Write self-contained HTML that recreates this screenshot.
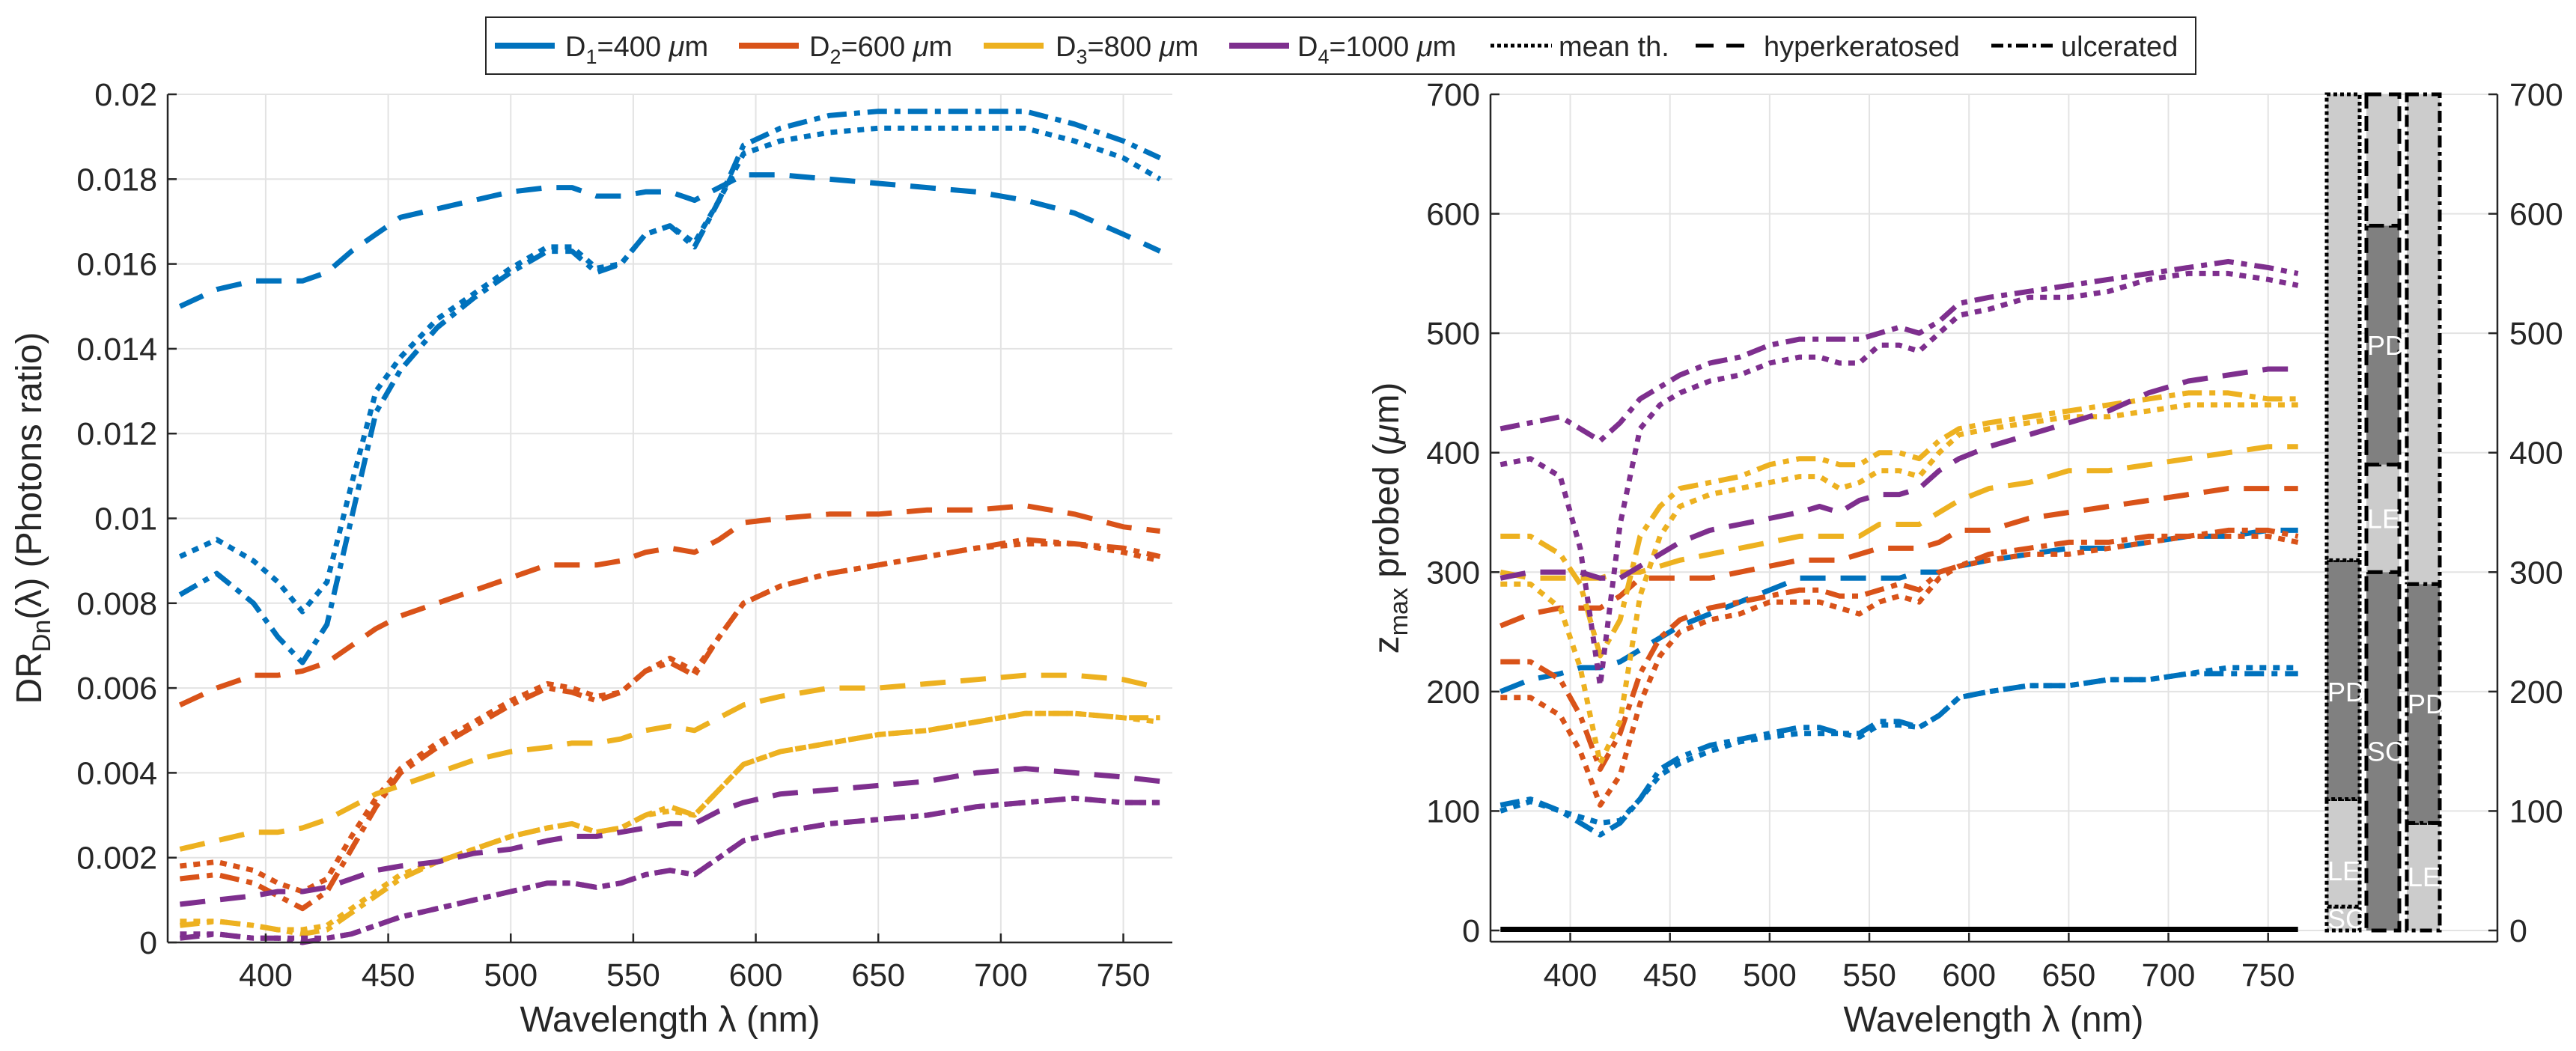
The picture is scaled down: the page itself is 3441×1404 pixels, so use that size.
<!DOCTYPE html>
<html><head><meta charset="utf-8">
<style>
html,body{margin:0;padding:0;background:#fff;}
svg{display:block;}
text{font-family:"Liberation Sans",sans-serif;fill:#262626;}
</style></head>
<body>
<svg id="fig" width="3441" height="1404" viewBox="0 0 3441 1404" xmlns="http://www.w3.org/2000/svg"></svg>
<script>
// ---------- data ----------
const wl = [365,380,395,405,415,425,435,445,455,470,485,500,515,525,535,545,555,565,575,585,595,610,630,650,670,690,710,730,750,765];

// Left chart: DR (photons ratio)
const drBlueUlc = [.0082,.0087,.0080,.0072,.0066,.0075,.0100,.0125,.0135,.0145,.0152,.0158,.0163,.0163,.0158,.0160,.0167,.0169,.0164,.0175,.0188,.0192,.0195,.0196,.0196,.0196,.0196,.0193,.0189,.0185];
const drBlueMean = [.0091,.0095,.0090,.0085,.0078,.0085,.0108,.0130,.0138,.0147,.0153,.0159,.0164,.0164,.0159,.0160,.0167,.0169,.0165,.0175,.0186,.0189,.0191,.0192,.0192,.0192,.0192,.0189,.0185,.0180];
const drBlueHyp = [.0150,.0154,.0156,.0156,.0156,.0158,.0163,.0167,.0171,.0173,.0175,.0177,.0178,.0178,.0176,.0176,.0177,.0177,.0175,.0178,.0181,.0181,.0180,.0179,.0178,.0177,.0175,.0172,.0167,.0163];
const drOrangeUlc = [.0015,.0016,.0014,.0011,.0008,.0012,.0022,.0032,.0040,.0046,.0051,.0056,.0060,.0059,.0057,.0059,.0064,.0066,.0063,.0072,.0080,.0084,.0087,.0089,.0091,.0093,.0095,.0094,.0093,.0091];
const drOrangeMean = [.0018,.0019,.0017,.0014,.0012,.0015,.0025,.0034,.0041,.0047,.0052,.0057,.0061,.0060,.0058,.0059,.0064,.0067,.0064,.0072,.0080,.0084,.0087,.0089,.0091,.0093,.0094,.0094,.0092,.0090];
const drOrangeHyp = [.0056,.0060,.0063,.0063,.0064,.0066,.0070,.0074,.0077,.0080,.0083,.0086,.0089,.0089,.0089,.0090,.0092,.0093,.0092,.0095,.0099,.0100,.0101,.0101,.0102,.0102,.0103,.0101,.0098,.0097];
const drYellowUlc = [.0004,.0005,.0004,.0003,.0002,.0003,.0007,.0011,.0015,.0019,.0022,.0025,.0027,.0028,.0026,.0027,.0030,.0032,.0030,.0036,.0042,.0045,.0047,.0049,.0050,.0052,.0054,.0054,.0053,.0053];
const drYellowMean = [.0005,.0005,.0004,.0003,.0003,.0004,.0008,.0012,.0016,.0019,.0022,.0025,.0027,.0028,.0026,.0027,.0030,.0031,.0030,.0036,.0042,.0045,.0047,.0049,.0050,.0052,.0054,.0054,.0053,.0052];
const drYellowHyp = [.0022,.0024,.0026,.0026,.0027,.0029,.0032,.0035,.0037,.0040,.0043,.0045,.0046,.0047,.0047,.0048,.0050,.0051,.0050,.0053,.0056,.0058,.0060,.0060,.0061,.0062,.0063,.0063,.0062,.0060];
const drPurpleUlc = [.0001,.0002,.0001,.0001,.0000,.0001,.0002,.0004,.0006,.0008,.0010,.0012,.0014,.0014,.0013,.0014,.0016,.0017,.0016,.0020,.0024,.0026,.0028,.0029,.0030,.0032,.0033,.0034,.0033,.0033];
const drPurpleMean = [.0002,.0002,.0001,.0001,.0001,.0001,.0002,.0004,.0006,.0008,.0010,.0012,.0014,.0014,.0013,.0014,.0016,.0017,.0016,.0020,.0024,.0026,.0028,.0029,.0030,.0032,.0033,.0034,.0033,.0033];
const drPurpleHyp = [.0009,.0010,.0011,.0012,.0012,.0013,.0015,.0017,.0018,.0019,.0021,.0022,.0024,.0025,.0025,.0026,.0027,.0028,.0028,.0031,.0033,.0035,.0036,.0037,.0038,.0040,.0041,.0040,.0039,.0038];

// Right chart: z_max probed (um)
const zBlueUlc = [105,110,100,90,80,90,110,135,145,155,160,165,170,170,165,165,175,175,170,180,195,200,205,205,210,210,215,215,215,215];
const zBlueMean = [100,108,100,95,90,92,110,130,140,150,158,162,165,165,165,162,172,172,170,180,195,200,205,205,210,210,215,220,220,220];
const zBlueHyp = [200,210,215,220,220,225,235,245,255,265,275,285,295,295,295,295,295,295,300,300,305,310,315,320,320,325,330,330,335,335];
const zOrangeUlc = [225,225,210,180,135,165,215,245,260,270,275,280,285,285,280,280,285,290,285,300,305,315,320,325,325,330,330,335,335,330];
const zOrangeMean = [195,195,180,150,105,130,190,230,250,260,265,275,275,275,270,265,275,280,275,295,305,310,315,315,320,325,330,330,330,325];
const zOrangeHyp = [255,265,270,270,270,280,295,295,295,295,300,305,310,310,310,315,320,320,320,325,335,335,345,350,355,360,365,370,370,370];
const zYellowUlc = [330,330,315,290,230,260,330,355,370,375,380,390,395,395,390,390,400,400,395,410,420,425,430,435,440,445,450,450,445,445];
const zYellowMean = [290,290,270,220,140,175,280,330,355,365,370,375,380,380,370,375,385,385,380,400,415,420,425,430,430,435,440,440,440,440];
const zYellowHyp = [300,295,295,295,295,300,300,305,310,315,320,325,330,330,330,330,340,340,340,350,360,370,375,385,385,390,395,400,405,405];
const zPurpleUlc = [420,425,430,420,410,425,445,455,465,475,480,490,495,495,495,495,500,505,500,510,525,530,535,540,545,550,555,560,555,550];
const zPurpleMean = [390,395,380,320,205,340,420,440,450,460,465,475,480,480,475,475,490,490,485,500,515,520,530,530,535,545,550,550,545,540];
const zPurpleHyp = [295,300,300,300,295,295,305,315,325,335,340,345,350,355,350,360,365,365,370,385,395,405,415,425,435,450,460,465,470,470];

const leftYTicks = [0,0.002,0.004,0.006,0.008,0.01,0.012,0.014,0.016,0.018,0.02];
const leftYLabels = ["0","0.002","0.004","0.006","0.008","0.01","0.012","0.014","0.016","0.018","0.02"];
const xTicks = [400,450,500,550,600,650,700,750];
const rightYTicks = [0,100,200,300,400,500,600,700];

// layer columns: [bottom, top, kind(0 light,1 dark), label]
const col1Layers = [[0,20,0,"SC"],[20,110,0,"LE"],[110,310,1,"PD"],[310,700,0,""]];
const col2Layers = [[0,300,1,"SC"],[300,390,0,"LE"],[390,590,1,"PD"],[590,700,0,""]];
const col3Layers = [[0,90,0,"LE"],[90,290,1,"PD"],[290,700,0,""]];
const col1LabelY = [10,50,200];
const col2LabelY = [150,345,490];
const col3LabelY = [45,190];

// ---------- drawing ----------
const NS="http://www.w3.org/2000/svg";
const svg=document.getElementById('fig');
function mk(tag,attrs,parent){const e=document.createElementNS(NS,tag);for(const k in attrs)e.setAttribute(k,attrs[k]);(parent||svg).appendChild(e);return e;}

const C={blue:"#0072BD",orange:"#D95319",yellow:"#EDB120",purple:"#7E2F8E"};
const DASH={mean:"9,9",hyp:"34,20",ulc:"26,10,8,10"};

// left axes
const L={x0:224,x1:1566,y0:1259,y1:126,xmin:360,xmax:770,ymin:0,ymax:0.02};
const R={x0:1991,x1:3336,y0:1258,y1:126,xmin:360,xmax:865,ymin:-9.4,ymax:700};
function sx(A,v){return A.x0+(v-A.xmin)/(A.xmax-A.xmin)*(A.x1-A.x0);}
function sy(A,v){return A.y0-(v-A.ymin)/(A.ymax-A.ymin)*(A.y0-A.y1);}

// left grid
for(const t of leftYTicks){
  const g=mk('line',{x1:L.x0,x2:L.x1,y1:sy(L,t),y2:sy(L,t),stroke:"#e3e3e3","stroke-width":2});
  
  
}
for(const t of xTicks){
  const g=mk('line',{x1:sx(L,t),x2:sx(L,t),y1:L.y1,y2:L.y0,stroke:"#e3e3e3","stroke-width":2});
  
  
}
// right grid
for(const t of rightYTicks){
  const g=mk('line',{x1:R.x0,x2:R.x1,y1:sy(R,t),y2:sy(R,t),stroke:"#e3e3e3","stroke-width":2});
  
  
}
for(const t of xTicks){
  const g=mk('line',{x1:sx(R,t),x2:sx(R,t),y1:R.y1,y2:R.y0,stroke:"#e3e3e3","stroke-width":2});
  
  
}

function series(A,vals,color,style,name){
  let d="";
  for(let i=0;i<wl.length;i++){d+=(i?"L":"M")+sx(A,wl[i]).toFixed(1)+","+sy(A,vals[i]).toFixed(1);}
  const p=mk('path',{d:d,fill:"none",stroke:color,"stroke-width":7,"stroke-dasharray":DASH[style],"stroke-linejoin":"round"});
  
  
}
const leftSeries=[[drBlueHyp,"blue","hyp"],[drBlueMean,"blue","mean"],[drBlueUlc,"blue","ulc"],
 [drOrangeHyp,"orange","hyp"],[drOrangeMean,"orange","mean"],[drOrangeUlc,"orange","ulc"],
 [drYellowHyp,"yellow","hyp"],[drYellowMean,"yellow","mean"],[drYellowUlc,"yellow","ulc"],
 [drPurpleHyp,"purple","hyp"],[drPurpleMean,"purple","mean"],[drPurpleUlc,"purple","ulc"]];
for(const s of leftSeries) series(L,s[0],C[s[1]],s[2],'dr-line-'+s[1]+'-'+s[2]);
const rightSeries=[[zBlueHyp,"blue","hyp"],[zBlueMean,"blue","mean"],[zBlueUlc,"blue","ulc"],
 [zOrangeHyp,"orange","hyp"],[zOrangeMean,"orange","mean"],[zOrangeUlc,"orange","ulc"],
 [zYellowHyp,"yellow","hyp"],[zYellowMean,"yellow","mean"],[zYellowUlc,"yellow","ulc"],
 [zPurpleHyp,"purple","hyp"],[zPurpleMean,"purple","mean"],[zPurpleUlc,"purple","ulc"]];
for(const s of rightSeries) series(R,s[0],C[s[1]],s[2],'zmax-line-'+s[1]+'-'+s[2]);

// black zero lines
for(const off of [0,3]){
  const z=mk('line',{x1:sx(R,365),x2:sx(R,765),y1:sy(R,0)-off,y2:sy(R,0)-off,stroke:"#000","stroke-width":4});
  
  
}

// layer columns
function column(x0,x1,layers,labelY,dash,name){
  for(let i=0;i<layers.length;i++){
    const ly=layers[i];
    const r=mk('rect',{x:x0,y:sy(R,ly[1]),width:x1-x0,height:sy(R,ly[0])-sy(R,ly[1]),fill:ly[2]?"#808080":"#cccccc",stroke:"#000","stroke-width":5,"stroke-dasharray":dash});
    
    
  }
  for(let i=0;i<labelY.length;i++){
    const t=mk('text',{x:x0+1,y:sy(R,labelY[i])+13,"font-size":36,style:"fill:#fff"});
    t.textContent=layers[i][3];
    
    
  }
}
column(3108,3152,col1Layers,col1LabelY,"5,4",'mean-thickness-column');
column(3161,3205,col2Layers,col2LabelY,"20,10",'hyperkeratosed-column');
column(3215,3259,col3Layers,col3LabelY,"16,6,5,6",'ulcerated-column');

// axes lines
function axLine(x1,y1,x2,y2,name){const l=mk('line',{x1,y1,x2,y2,stroke:"#262626","stroke-width":2.5});}
axLine(L.x0,L.y1,L.x0,L.y0,'left-y-axis');
axLine(L.x0,L.y0,L.x1,L.y0,'left-x-axis');
axLine(R.x0,R.y1,R.x0,R.y0,'right-y-axis');
axLine(R.x0,R.y0,R.x1,R.y0,'right-x-axis');
axLine(R.x1,R.y1,R.x1,R.y0,'right-secondary-y-axis');

// ticks + labels
for(let i=0;i<leftYTicks.length;i++){
  const y=sy(L,leftYTicks[i]);
  axLine(L.x0,y,L.x0+12,y,'left-y-tick');
  const t=mk('text',{x:L.x0-14,y:y+15,"font-size":43,"text-anchor":"end"});
  t.textContent=leftYLabels[i];
  
  
}
for(const v of xTicks){
  const x=sx(L,v);
  axLine(x,L.y0,x,L.y0-12,'left-x-tick');
  const t=mk('text',{x:x,y:1317,"font-size":43,"text-anchor":"middle"});
  t.textContent=v;
  
  
  const x2=sx(R,v);
  axLine(x2,R.y0,x2,R.y0-12,'right-x-tick');
  const t2=mk('text',{x:x2,y:1317,"font-size":43,"text-anchor":"middle"});
  t2.textContent=v;
  
  
}
for(const v of rightYTicks){
  const y=sy(R,v);
  axLine(R.x0,y,R.x0+12,y,'right-y-tick');
  axLine(R.x1,y,R.x1-12,y,'right-secondary-y-tick');
  const t=mk('text',{x:R.x0-14,y:y+15,"font-size":43,"text-anchor":"end"});
  t.textContent=v;
  
  
  const t2=mk('text',{x:R.x1+16,y:y+15,"font-size":43,"text-anchor":"start"});
  t2.textContent=v;
  
  
}
</script>
<svg style="position:absolute;left:0;top:0" width="3441" height="1404" xmlns="http://www.w3.org/2000/svg">
  <text x="895" y="1378" font-size="48" text-anchor="middle">Wavelength λ (nm)</text>
  <text x="2663" y="1378" font-size="48" text-anchor="middle">Wavelength λ (nm)</text>
  <text transform="translate(55,692) rotate(-90)" font-size="48" text-anchor="middle">DR<tspan font-size="34" dy="12">Dn</tspan><tspan dy="-12">(λ) (Photons ratio)</tspan></text>
  <text transform="translate(1868,692) rotate(-90)" font-size="48" text-anchor="middle">z<tspan font-size="34" dy="12">max</tspan><tspan dy="-12"> probed (</tspan><tspan font-style="italic">μ</tspan>m)</text>
  <g>
    <rect x="649" y="23" width="2284" height="76" fill="#fff" stroke="#262626" stroke-width="2"/>
    <line x1="661" y1="61" x2="741" y2="61" stroke="#0072BD" stroke-width="8"/>
    <text x="755" y="75" font-size="38">D<tspan font-size="27" dy="10">1</tspan><tspan dy="-10">=400 </tspan><tspan font-style="italic">μ</tspan>m</text>
    <line x1="987" y1="61" x2="1067" y2="61" stroke="#D95319" stroke-width="8"/>
    <text x="1081" y="75" font-size="38">D<tspan font-size="27" dy="10">2</tspan><tspan dy="-10">=600 </tspan><tspan font-style="italic">μ</tspan>m</text>
    <line x1="1314" y1="61" x2="1394" y2="61" stroke="#EDB120" stroke-width="8"/>
    <text x="1410" y="75" font-size="38">D<tspan font-size="27" dy="10">3</tspan><tspan dy="-10">=800 </tspan><tspan font-style="italic">μ</tspan>m</text>
    <line x1="1642" y1="61" x2="1722" y2="61" stroke="#7E2F8E" stroke-width="8"/>
    <text x="1733" y="75" font-size="38">D<tspan font-size="27" dy="10">4</tspan><tspan dy="-10">=1000 </tspan><tspan font-style="italic">μ</tspan>m</text>
    <line x1="1991" y1="61" x2="2073" y2="61" stroke="#000" stroke-width="5" stroke-dasharray="5,4"/>
    <text x="2082" y="75" font-size="38">mean th.</text>
    <line x1="2265" y1="61" x2="2330" y2="61" stroke="#000" stroke-width="5" stroke-dasharray="24,17"/>
    <text x="2356" y="75" font-size="38">hyperkeratosed</text>
    <line x1="2660" y1="61" x2="2746" y2="61" stroke="#000" stroke-width="5" stroke-dasharray="16,6,5,6"/>
    <text x="2753" y="75" font-size="38">ulcerated</text>
  </g>
</svg>
</body></html>
